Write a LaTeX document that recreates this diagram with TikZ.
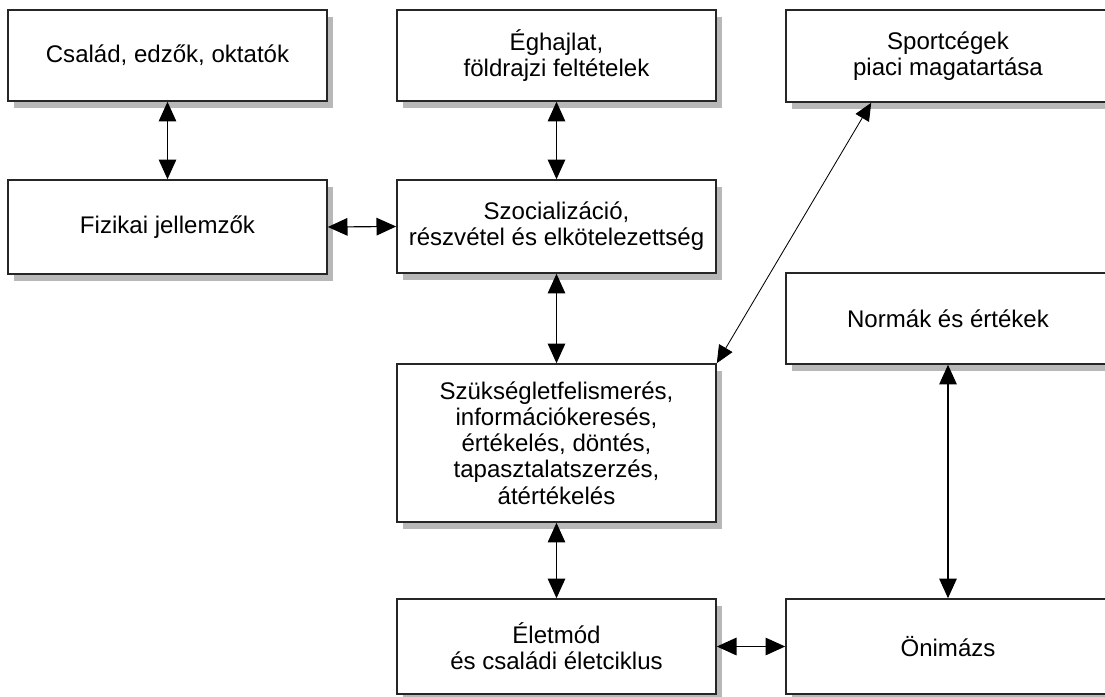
\documentclass[tikz,border=0pt]{standalone}
\usepackage{fontspec}
\setmainfont{Liberation Sans}
\usetikzlibrary{arrows.meta,shadows,calc}
\tikzset{
  box/.style={draw=black!85, line width=1.1pt, fill=white, inner sep=0pt,
    minimum width=7.975cm, align=center,
    font=\fontsize{17.1}{18.6}\selectfont,
    drop shadow={shadow xshift=0.16cm, shadow yshift=-0.17cm, fill=black!28, opacity=1}},
  conn/.style={line width=0.8pt, {Triangle[length=14pt,width=12.5pt]}-{Triangle[length=14pt,width=12.5pt]}},
  thinconn/.style={line width=0.6pt, {Triangle[length=12.5pt,width=11pt]}-{Triangle[length=12.5pt,width=11pt]}}
}
\begin{document}
\begin{tikzpicture}[x=0.025cm, y=-0.025cm]
\useasboundingbox[fill=white] (0,0) rectangle (1105,697);
\node[box, minimum height=2.275cm] (csalad) at (167.5,55.5) {Család, edzők, oktatók};
\node[box, minimum height=2.35cm] (fiz) at (167.5,227) {Fizikai jellemzők};
\node[box, minimum height=2.275cm] (egh) at (556.5,55.5) {Éghajlat,\\földrajzi feltételek};
\node[box, minimum height=2.325cm] (szoc) at (556.5,226.5) {Szocializáció,\\részvétel és elkötelezettség};
\node[box, minimum height=2.3cm, minimum width=8.1cm] (sport) at (948,56) {Sportcégek\\piaci magatartása};
\node[box, minimum height=2.275cm, minimum width=8.1cm] (norm) at (948,318.5) {Normák és értékek};
\node[box, minimum height=3.95cm] (szuk) at (556.5,443) {Szükségletfelismerés,\\információkeresés,\\értékelés, döntés,\\tapasztalatszerzés,\\átértékelés};
\node[box, minimum height=2.375cm] (elet) at (556.5,646.5) {Életmód\\és családi életciklus};
\node[box, minimum height=2.375cm, minimum width=8.1cm] (onim) at (948,646.5) {Önimázs};

\draw[conn] (csalad.south) -- (fiz.north);
\draw[conn] (egh.south) -- (szoc.north);
\draw[conn] (fiz.east) -- (szoc.west);
\draw[conn] (szoc.south) -- (szuk.north);
\draw[conn] (szuk.south) -- (elet.north);
\draw[conn] (elet.east) -- (onim.west);
\draw[conn] (norm.south) -- (onim.north);
\coordinate (sp) at ([xshift=2.15cm]sport.south west);
\draw[thinconn] (sp) -- (szuk.north east);
\end{tikzpicture}
\end{document}
